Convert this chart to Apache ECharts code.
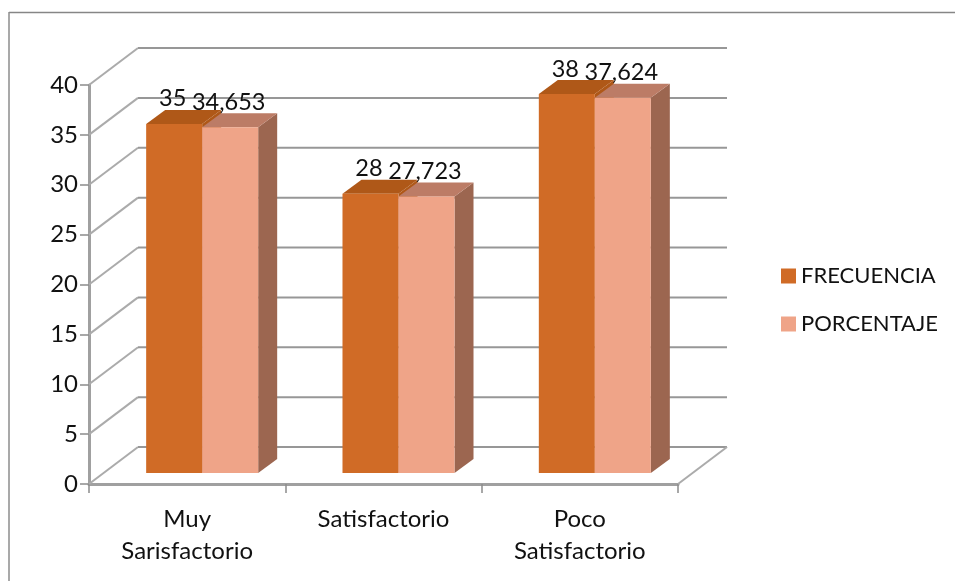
<!DOCTYPE html>
<html><head><meta charset="utf-8">
<style>html,body{margin:0;padding:0;background:#fff}#c{width:955px;height:581px}</style>
<script src="https://cdn.jsdelivr.net/npm/echarts@6/dist/echarts.min.js"></script>
</head><body><div id="c"></div>
<script>
const categories = ['Muy\nSarisfactorio', 'Satisfactorio', 'Poco\nSatisfactorio'];
const frecuencia = [35, 28, 38];
const porcentaje = [34.653, 27.723, 37.624];
const yTicks = [0, 5, 10, 15, 20, 25, 30, 35, 40];

const FONT = 'Lato';
const wallDx = 49, wallDy = -37;      // depth of the chart box
const barOffX = 15, barOffY = -11;    // bars stand inside the box
const barDx = 19, barDy = -14;        // depth of a bar
const barRatio = 56 / 196.3;

function barRender(slot, topColor, sideColor) {
  return function (params, api) {
    const idx = api.value(0), v = api.value(1);
    const base = api.coord([idx, 0]);
    const top = api.coord([idx, v]);
    const w = api.size([1, 0])[0] * barRatio;
    const x0 = base[0] + barOffX + (slot - 1) * w;
    const x1 = x0 + w;
    const y0 = base[1] + barOffY;
    const y1 = top[1] + barOffY;
    const poly = (pts, fill) => ({ type: 'polygon', shape: { points: pts }, style: { fill: fill } });
    return {
      type: 'group',
      children: [
        poly([[x1, y0], [x1 + barDx, y0 + barDy], [x1 + barDx, y1 + barDy], [x1, y1]], sideColor),
        poly([[x0, y1], [x1, y1], [x1 + barDx, y1 + barDy], [x0 + barDx, y1 + barDy]], topColor),
        { type: 'rect', shape: { x: x0, y: y1, width: w, height: y0 - y1 }, style: { fill: api.visual('color') } },
        { type: 'text', z2: 10, style: {
            x: (x0 + x1) / 2 - 1.5, y: y1 - 25,
            text: String(v).replace('.', ','),
            font: '23.5px ' + FONT, fill: '#111', align: 'center', verticalAlign: 'middle' } }
      ]
    };
  };
}

function wallRender(params, api) {
  const t = api.value(1);
  const cs = params.coordSys;
  const p = api.coord([0, t]);
  const y = p[1], xl = cs.x, xr = cs.x + cs.width;
  const children = [
    { type: 'line', shape: { x1: xl, y1: y, x2: xl + wallDx, y2: y + wallDy },
      style: { stroke: '#ababab', lineWidth: 2 } },
    { type: 'line', shape: { x1: xl + wallDx, y1: y + wallDy, x2: xr + wallDx, y2: y + wallDy },
      style: { stroke: '#979797', lineWidth: 2 } }
  ];
  if (t === 0) {
    children.push({ type: 'line', shape: { x1: xr, y1: y, x2: xr + wallDx, y2: y + wallDy },
      style: { stroke: '#ababab', lineWidth: 2 } });
  }
  return { type: 'group', children: children };
}

const chart = echarts.init(document.getElementById('c'), null, { renderer: 'canvas' });
chart.setOption({
  animation: false,
  backgroundColor: '#fff',
  textStyle: { fontFamily: FONT },
  graphic: [
    { type: 'line', silent: true, shape: { x1: 9, y1: 12.5, x2: 955, y2: 12.5 }, style: { stroke: '#868686', lineWidth: 1.5 } },
    { type: 'line', silent: true, shape: { x1: 9, y1: 12, x2: 9, y2: 581 }, style: { stroke: '#8c8c8c', lineWidth: 1.5 } }
  ],
  legend: {
    data: ['FRECUENCIA', 'PORCENTAJE'],
    orient: 'vertical', left: 781, top: 265, padding: 0,
    itemWidth: 15, itemHeight: 15, itemGap: 26,
    icon: 'rect',
    textStyle: { fontFamily: FONT, fontSize: 22, color: '#111', padding: [0, 0, 0, 0] }
  },
  grid: { left: 89, top: 85, width: 589, height: 399 },
  xAxis: {
    type: 'category', data: categories,
    axisLine: { lineStyle: { color: '#a0a0a0', width: 3 } },
    axisTick: { show: true, length: 9, lineStyle: { color: '#8c8c8c', width: 1.5 } },
    axisLabel: { fontFamily: FONT, fontSize: 24, color: '#111', lineHeight: 32, margin: 19 },
    splitLine: { show: false }
  },
  yAxis: {
    type: 'value', min: 0, max: 40, interval: 5,
    axisLine: { show: true, lineStyle: { color: '#a0a0a0', width: 3 } },
    axisTick: { show: true, length: 9, lineStyle: { color: '#8c8c8c', width: 1.5 } },
    axisLabel: { fontFamily: FONT, fontSize: 24, color: '#111', margin: 11 },
    splitLine: { show: false }
  },
  series: [
    { type: 'custom', name: 'pared', silent: true, z: 1, clip: false,
      renderItem: wallRender, data: yTicks.map(t => [0, t]), encode: { x: 0, y: 1 } },
    { type: 'custom', name: 'FRECUENCIA', z: 2, clip: false,
      itemStyle: { color: '#D06B26' },
      renderItem: barRender(0, '#AF5818', '#AF5818'),
      data: frecuencia.map((v, i) => [i, v]), encode: { x: 0, y: 1 } },
    { type: 'custom', name: 'PORCENTAJE', z: 3, clip: false,
      itemStyle: { color: '#EFA488' },
      renderItem: barRender(1, '#BC7C66', '#9C6650'),
      data: porcentaje.map((v, i) => [i, v]), encode: { x: 0, y: 1 } }
  ]
});
</script></body></html>
